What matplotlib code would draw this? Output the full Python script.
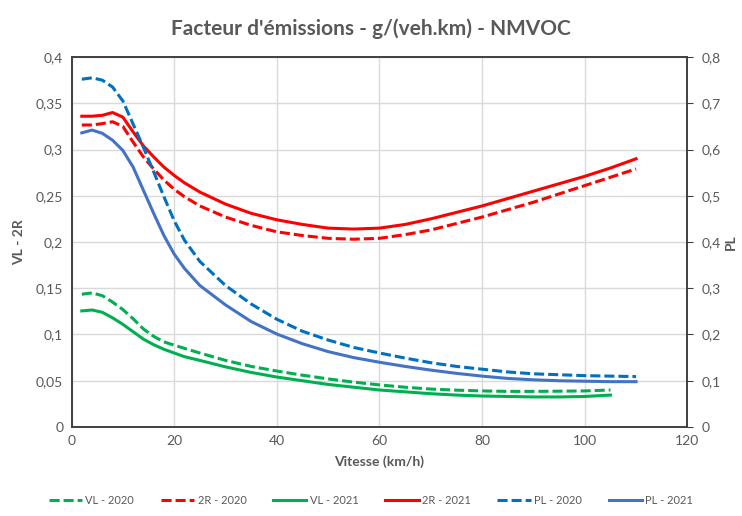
import matplotlib
matplotlib.use("Agg")
import matplotlib.pyplot as plt
from matplotlib.ticker import FuncFormatter

plt.rcParams['font.family'] = ['Lato', 'DejaVu Sans']

# --- data ---
speed = [2, 4, 6, 8, 10, 12, 14, 16, 18, 20, 22, 25, 30, 35, 40, 45, 50, 55,
         60, 65, 70, 75, 80, 85, 90, 95, 100, 105, 110]
speed_vl = speed[:-1]  # VL curves stop at 105 km/h

vl_2020 = [0.1435, 0.145, 0.142, 0.135, 0.127, 0.117, 0.106, 0.098, 0.092, 0.0885,
           0.085, 0.080, 0.072, 0.0655, 0.0605, 0.056, 0.052, 0.0485, 0.0455, 0.043,
           0.041, 0.0398, 0.039, 0.0385, 0.0385, 0.0387, 0.039, 0.040]
vl_2021 = [0.1255, 0.1265, 0.124, 0.118, 0.111, 0.103, 0.095, 0.089, 0.084, 0.080,
           0.076, 0.072, 0.065, 0.059, 0.054, 0.050, 0.046, 0.043, 0.040, 0.038,
           0.036, 0.0345, 0.0335, 0.033, 0.0325, 0.0325, 0.033, 0.0345]
r2_2020 = [0.3265, 0.3265, 0.328, 0.330, 0.325, 0.308, 0.292, 0.279, 0.267, 0.257,
           0.249, 0.239, 0.227, 0.218, 0.211, 0.207, 0.204, 0.203, 0.204, 0.208,
           0.213, 0.220, 0.227, 0.235, 0.243, 0.252, 0.261, 0.270, 0.279]
r2_2021 = [0.336, 0.336, 0.337, 0.340, 0.335, 0.319, 0.304, 0.292, 0.281, 0.272,
           0.264, 0.254, 0.241, 0.231, 0.224, 0.219, 0.215, 0.214, 0.215, 0.219,
           0.225, 0.232, 0.239, 0.247, 0.255, 0.263, 0.271, 0.280, 0.290]
pl_2020 = [0.752, 0.755, 0.750, 0.735, 0.705, 0.655, 0.605, 0.552, 0.498, 0.446,
           0.404, 0.358, 0.306, 0.266, 0.233, 0.207, 0.188, 0.172, 0.160, 0.149,
           0.139, 0.131, 0.125, 0.119, 0.115, 0.113, 0.111, 0.110, 0.109]
pl_2021 = [0.636, 0.642, 0.635, 0.620, 0.598, 0.562, 0.512, 0.462, 0.414, 0.374,
           0.343, 0.306, 0.264, 0.228, 0.201, 0.180, 0.163, 0.150, 0.140, 0.131,
           0.123, 0.116, 0.110, 0.105, 0.102, 0.100, 0.099, 0.098, 0.098]

GREY = '#595959'
DASH = (0, (3.3, 1.3))


def comma_fmt(v, pos):
    s = f"{v:.2f}".rstrip('0').rstrip('.')
    return s.replace('.', ',')


fig = plt.figure(figsize=(7.42, 5.16), dpi=100)
ax = fig.add_axes([0.0964, 0.1725, 0.830, 0.717])
ax2 = ax.twinx()

style = dict(lw=2.2, solid_joinstyle='round', dash_joinstyle='round')
l1, = ax.plot(speed_vl, vl_2020, color='#00B050', linestyle=DASH, label='VL - 2020', **style)
l2, = ax.plot(speed, r2_2020, color='#FF0000', linestyle=DASH, label='2R - 2020', **style)
l3, = ax.plot(speed_vl, vl_2021, color='#00B050', label='VL - 2021', **style)
l4, = ax.plot(speed, r2_2021, color='#FF0000', label='2R - 2021', **style)
l5, = ax2.plot(speed, pl_2020, color='#0070C0', linestyle=DASH, label='PL - 2020', **style)
l6, = ax2.plot(speed, pl_2021, color='#4472C4', label='PL - 2021', **style)

ax.set_xlim(0, 120)
ax.set_ylim(0, 0.4)
ax2.set_ylim(0, 0.8)
ax.set_xticks(range(0, 121, 20))
ax.set_yticks([i * 0.05 for i in range(9)])
ax2.set_yticks([i * 0.1 for i in range(9)])
ax.yaxis.set_major_formatter(FuncFormatter(comma_fmt))
ax2.yaxis.set_major_formatter(FuncFormatter(comma_fmt))

ax.grid(True, color='#D9D9D9', lw=1)
ax.set_axisbelow(True)

for a in (ax, ax2):
    for sp in a.spines.values():
        sp.set_color('#404040')
        sp.set_linewidth(1.2)
ax.tick_params(axis='both', length=0, labelsize=10, labelcolor=GREY, pad=6)
ax2.tick_params(axis='y', length=4, color='#404040', labelsize=10, labelcolor=GREY, pad=6)

ax.set_xlabel('Vitesse (km/h)', fontsize=10, fontweight='bold', color=GREY, labelpad=6)
ax.set_ylabel('VL - 2R', fontsize=10, fontweight='bold', color=GREY, labelpad=8)
ax2.set_ylabel('PL', fontsize=10, fontweight='bold', color=GREY, labelpad=3)

fig.suptitle("Facteur d'émissions - g/(veh.km) - NMVOC", y=0.965,
             fontsize=15, fontweight='bold', color=GREY)

fig.legend(handles=[l1, l2, l3, l4, l5, l6], loc='lower center',
           bbox_to_anchor=(0.5, 0.0), ncol=6, frameon=False, fontsize=8,
           handlelength=3.0, columnspacing=2.4, handletextpad=0.3,
           labelcolor=GREY)

fig.savefig('out.png', dpi=100)
